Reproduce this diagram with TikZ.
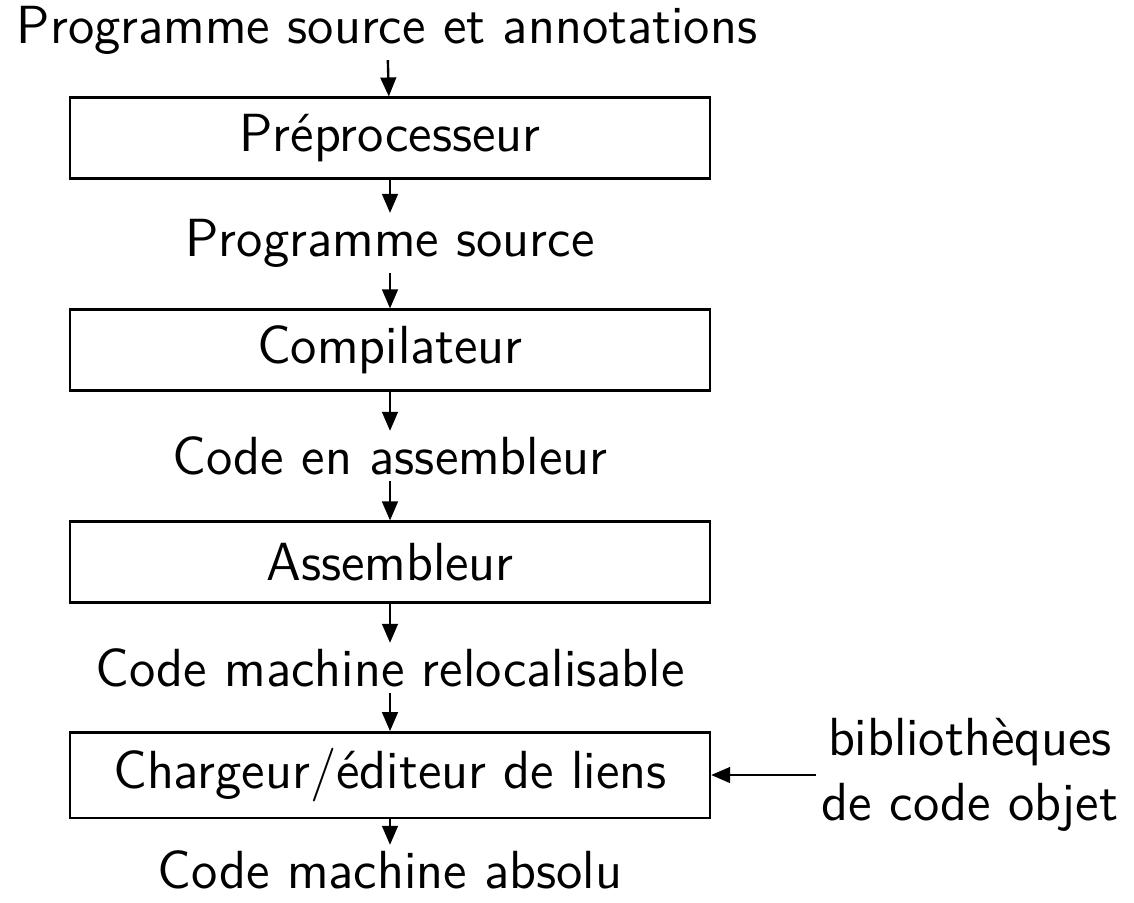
\documentclass[tikz,border=0pt]{standalone}
\usepackage{amsmath}
\usepackage{fontspec}
\usetikzlibrary{arrows.meta}

\begin{document}
\begin{tikzpicture}[x=0.2105pt, y=-0.2105pt, font=\sffamily\fontsize{11.3}{13.6}\selectfont,
    line width=0.5pt,
    box/.style={draw, rectangle, minimum width=134.7pt, minimum height=17pt},
    lbl/.style={inner sep=1pt},
    >={Triangle[length=4pt, width=3.3pt]}]
    \useasboundingbox (0,0) rectangle (1134,902);

    \node[lbl] (src) at (387,30) {Programme source et annotations};
    \node[box] (prep) at (390,138) {Préprocesseur};
    \node[lbl] (prog) at (390,243) {Programme source};
    \node[box] (comp) at (390,350) {Compilateur};
    \node[lbl] (asm) at (390,456) {Code en assembleur};
    \node[box] (assem) at (390,562) {Assembleur};
    \node[lbl] (reloc) at (390,668) {Code machine relocalisable};
    \node[box] (link) at (390,775) {Chargeur/éditeur de liens};
    \node[lbl] (abs) at (390,870) {Code machine absolu};
    \node[lbl, align=center] (lib) at (970,775) {bibliothèques\\de code objet};

    \draw[->] (src) -- (prep);
    \draw[->] (prep) -- (prog);
    \draw[->] (prog) -- (comp);
    \draw[->] (comp) -- (asm);
    \draw[->] (asm) -- (assem);
    \draw[->] (assem) -- (reloc);
    \draw[->] (reloc) -- (link);
    \draw[->] (link) -- (abs);
    \draw[->] (lib) -- (link);
\end{tikzpicture}
\end{document}
